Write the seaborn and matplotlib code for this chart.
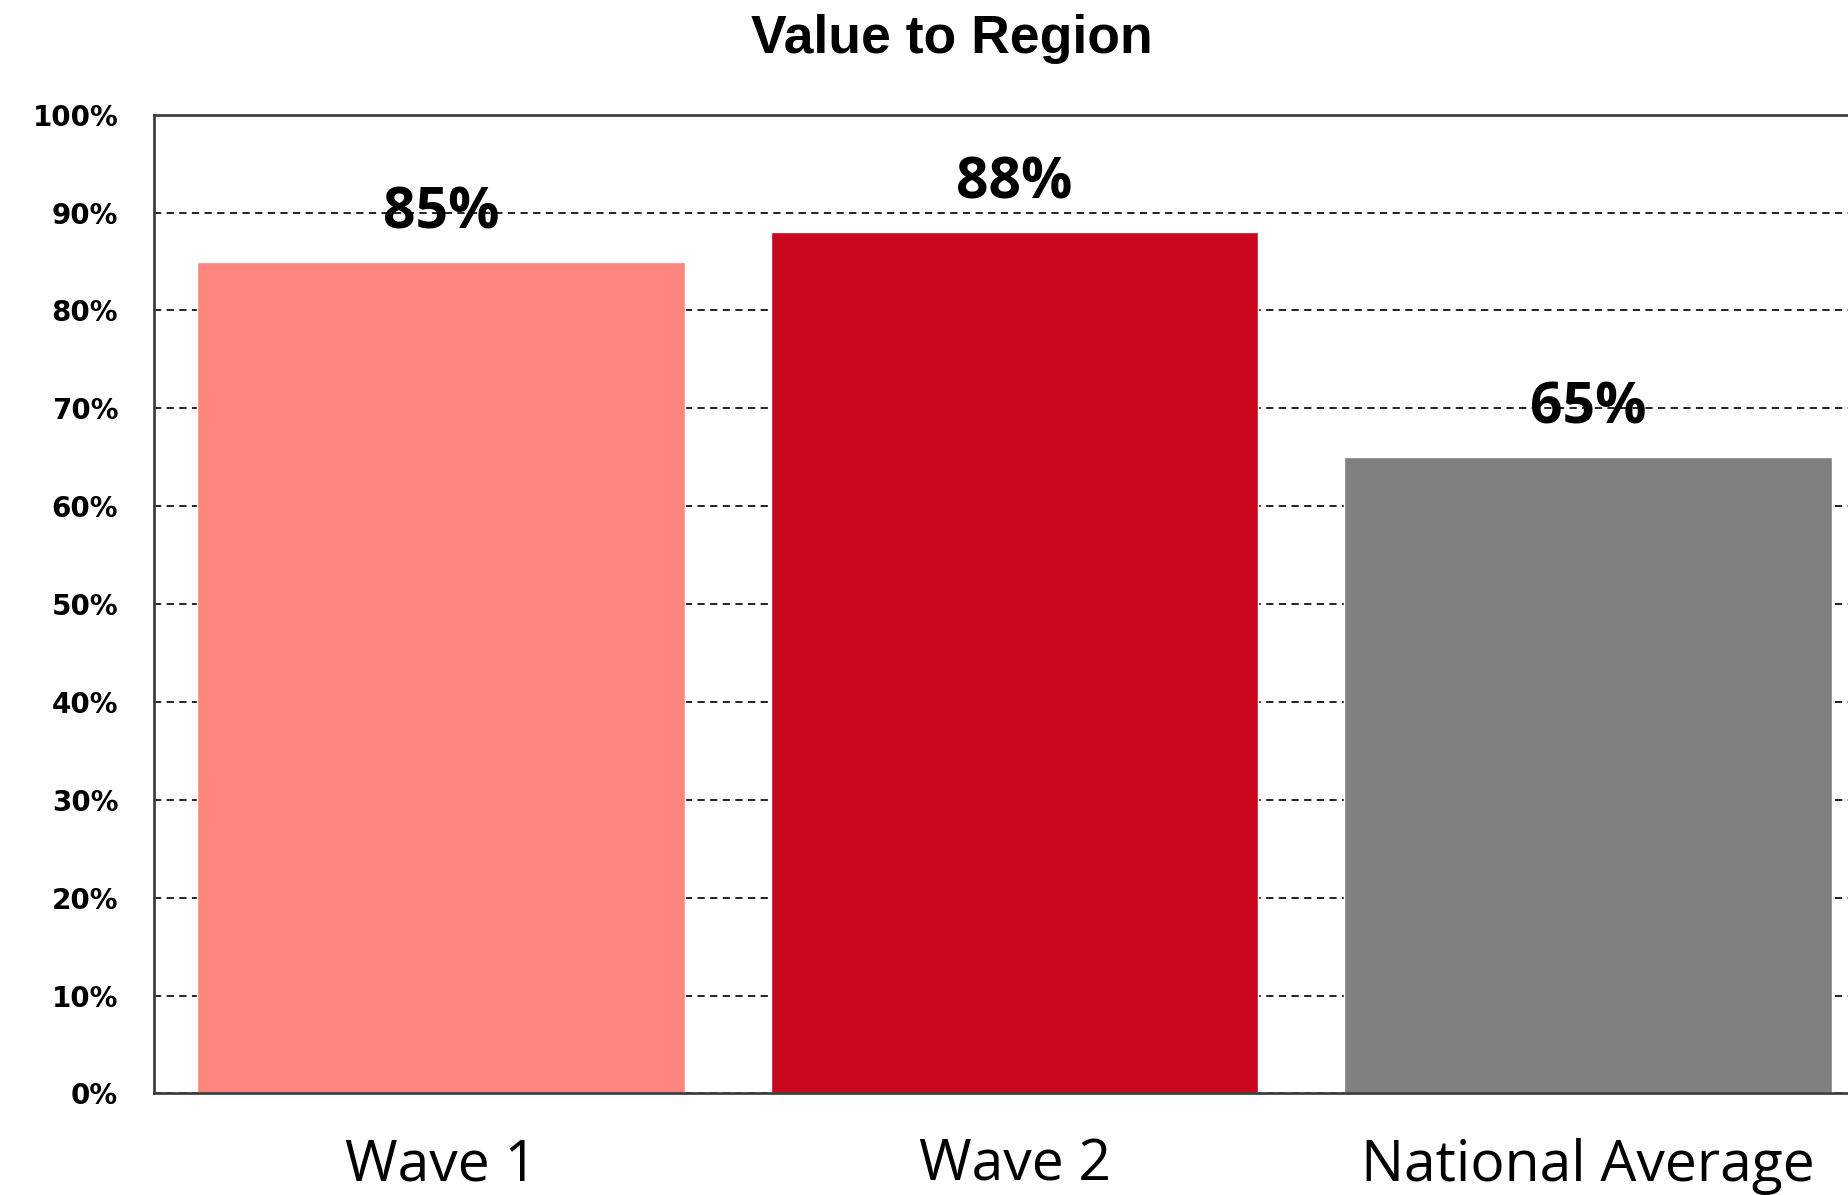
import pandas as pd
import seaborn as sns
import matplotlib

matplotlib.use("Agg")
import matplotlib.pyplot as plt
from matplotlib.ticker import PercentFormatter


categories = ["Wave 1", "Wave 2", "National Average"]
values = [85, 88, 65]
bar_colors = ["#FF867E", "#C8061E", "#808080"]
labels = ["85%", "88%", "65%"]


def main():
    sns.set_theme(style="white")
    plt.rcParams["text.color"] = "black"
    plt.rcParams["xtick.color"] = "black"
    plt.rcParams["ytick.color"] = "black"
    df = pd.DataFrame({"category": categories, "value": values})

    fig = plt.figure(figsize=(18.48, 11.95), dpi=100)
    ax = fig.add_axes([0.0835, 0.085, 0.931, 0.819])

    sns.barplot(
        data=df, x="category", y="value", hue="category",
        palette=bar_colors, width=0.85, saturation=1, legend=False, ax=ax,
    )

    ax.set_ylim(0, 100)
    ax.set_xlim(-0.5, 2.5)
    ax.set_yticks(range(0, 101, 10))
    ax.yaxis.set_major_formatter(PercentFormatter(decimals=0))
    ax.set_xlabel("")
    ax.set_ylabel("")

    # dashed horizontal gridlines behind bars
    ax.set_axisbelow(True)
    ax.yaxis.grid(True, linestyle=(0, (4, 3)), color="#111111", linewidth=1.3)
    ax.xaxis.grid(False)

    for side in ["left", "top", "bottom"]:
        ax.spines[side].set_color("#404040")
        ax.spines[side].set_linewidth(2)
    ax.spines["right"].set_visible(False)

    ax.tick_params(axis="y", length=0, pad=26, labelsize=20, labelcolor="black")
    ax.tick_params(axis="x", length=0, pad=32, labelsize=41, labelcolor="black")
    for t in ax.get_yticklabels():
        t.set_fontweight("bold")
        t.set_fontfamily("DejaVu Sans")
    for t in ax.get_xticklabels():
        t.set_fontfamily("Open Sans")

    for patch, lab in zip(ax.patches, labels):
        ax.annotate(
            lab,
            (patch.get_x() + patch.get_width() / 2, patch.get_height()),
            xytext=(0, 14), textcoords="offset points",
            ha="center", va="bottom", fontsize=41, fontweight="bold",
            family="Open Sans", color="black",
        )

    fig.suptitle("Value to Region", x=0.515, y=0.988, fontsize=38.5,
                 fontweight="bold", family="Liberation Sans", color="black")

    fig.savefig("out.png", dpi=100)
    plt.close(fig)


if __name__ == "__main__":
    main()
